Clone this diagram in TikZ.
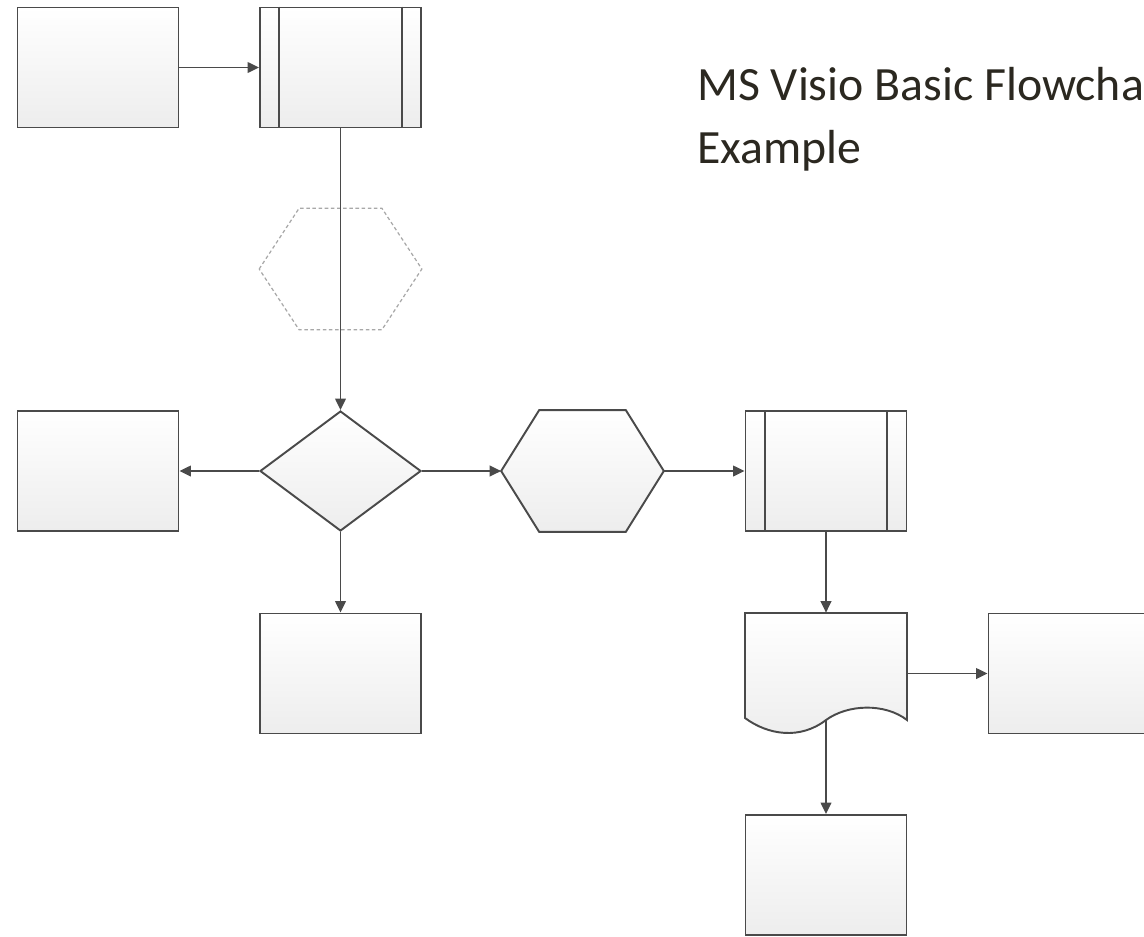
\documentclass[tikz,border=0pt]{standalone}
\usepackage{fontspec}
\setmainfont{Carlito}
\usetikzlibrary{arrows.meta,shapes.geometric}
\definecolor{linegray}{HTML}{4A4A4A}
\definecolor{fillgray}{HTML}{EDEDED}
\definecolor{ghostgray}{HTML}{A8A8A8}
\definecolor{titlecol}{HTML}{2B2820}
\tikzset{
  shapeline/.style={draw=linegray, line width=1.1pt},
  shapefill/.style={top color=white, bottom color=fillgray},
  flowbox/.style={shapeline, shapefill, rectangle, inner sep=0pt,
    minimum width=3.22cm, minimum height=2.4cm},
  corebox/.style={rectangle, inner sep=0pt, minimum width=3.24cm, minimum height=2.42cm},
  decbox/.style={shapeline, shapefill, diamond, inner sep=0pt,
    minimum width=3.22cm, minimum height=2.4cm},
  flowarrow/.style={draw=linegray, line width=1.1pt, -{Triangle[length=6.5pt,width=6pt]}}
}
\begin{document}
\begin{tikzpicture}[x=0.02cm, y=-0.02cm]
  \useasboundingbox (0,0) rectangle (1144,937);
  \node[flowbox] (start) at (98,67.5) {};
  \node[flowbox] (sub1) at (340.5,67.5) {};
  \draw[shapeline] ([xshift=0.4cm]sub1.north west) -- ([xshift=0.4cm]sub1.south west)
                   ([xshift=-0.4cm]sub1.north east) -- ([xshift=-0.4cm]sub1.south east);
  \node[corebox] (ghost) at (340.5,269) {};
  \draw[ghostgray, line width=0.7pt, dash pattern=on 2pt off 1.5pt]
    (ghost.west) -- ([xshift=0.8cm]ghost.north west) -- ([xshift=-0.8cm]ghost.north east)
    -- (ghost.east) -- ([xshift=-0.8cm]ghost.south east) -- ([xshift=0.8cm]ghost.south west) -- cycle;
  \node[decbox] (dec) at (340.5,471) {};
  \node[flowbox] (left) at (98,471) {};
  \node[corebox] (hex) at (582.5,471) {};
  \path[shapeline, shapefill]
    (hex.west) -- ([xshift=0.76cm]hex.north west) -- ([xshift=-0.76cm]hex.north east)
    -- (hex.east) -- ([xshift=-0.76cm]hex.south east) -- ([xshift=0.76cm]hex.south west) -- cycle;
  \node[flowbox] (sub2) at (826,471) {};
  \draw[shapeline] ([xshift=0.4cm]sub2.north west) -- ([xshift=0.4cm]sub2.south west)
                   ([xshift=-0.4cm]sub2.north east) -- ([xshift=-0.4cm]sub2.south east);
  \node[flowbox] (below) at (340.5,673.5) {};
  \node[corebox] (doc) at (826,673.5) {};
  \path[shapeline, shapefill] (745,613) -- (907,613) -- (907,720)
    .. controls (885,703) and (848,704) .. (826,720)
    .. controls (800,740) and (768,735) .. (745,718) -- cycle;
  \coordinate (docwave) at (826,720);
  \node[flowbox] (right) at (1069,673.5) {};
  \node[flowbox] (bottom) at (826,875) {};
  \node[titlecol, anchor=base west, align=left, inner sep=0pt,
        font=\fontsize{27.2}{35.7}\selectfont] (title) at (697,163)
    {MS Visio Basic Flowchart\\Example};
  \draw[flowarrow] (start) -- (sub1);
  \draw[flowarrow] (sub1) -- (dec);
  \draw[flowarrow] (dec) -- (left);
  \draw[flowarrow] (dec) -- (hex);
  \draw[flowarrow] (hex) -- (sub2);
  \draw[flowarrow] (dec) -- (below);
  \draw[flowarrow] (sub2) -- (doc);
  \draw[flowarrow] (doc) -- (right);
  \draw[flowarrow] (docwave) -- (bottom);
\end{tikzpicture}
\end{document}
